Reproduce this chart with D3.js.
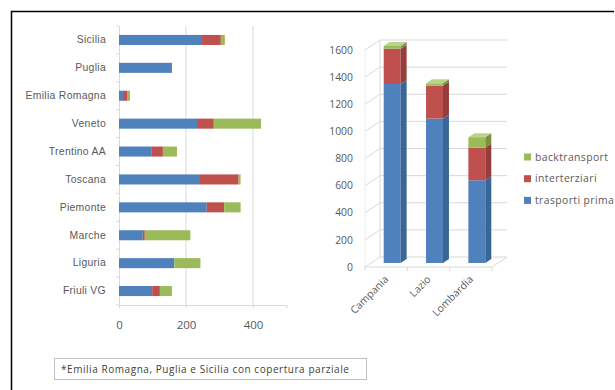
<!DOCTYPE html>
<html>
<head>
<meta charset="utf-8">
<script src="https://cdn.jsdelivr.net/npm/d3@7"></script>
<style>
  html, body { margin: 0; padding: 0; background: #fff; }
  svg { display: block; font-family: "Open Sans", "Liberation Sans", sans-serif; }
</style>
</head>
<body>
<svg id="chart" width="615" height="390"></svg>
<script>
// ---- Data ----
const seriesNames = ["trasporti prima", "interterziari", "backtransport"];
const seriesColors = ["#4F81BD", "#C0504D", "#9BBB59"];
const sideColors = ["#3A6597", "#963C3A", "#769140"];
const topColors = ["#7FA3D3", "#D98A88", "#B9D48A"];

const regions = ["Sicilia", "Puglia", "Emilia Romagna", "Veneto", "Trentino AA",
                 "Toscana", "Piemonte", "Marche", "Liguria", "Friuli VG"];
const regTrasporti = [248, 158, 12, 233, 98, 239, 262, 71, 165, 99];
const regInterterziari = [56, 0, 12, 50, 33, 118, 52, 6, 0, 23];
const regBacktransport = [12, 0, 9, 141, 42, 6, 49, 136, 78, 36];
const leftTicks = [0, 200, 400];

const bigRegions = ["Campania", "Lazio", "Lombardia"];
const bigTrasporti = [1320, 1065, 610];
const bigInterterziari = [260, 242, 240];
const bigBacktransport = [20, 18, 78];
const rightTicks = [0, 200, 400, 600, 800, 1000, 1200, 1400, 1600];

const footnote = "*Emilia Romagna, Puglia e Sicilia con copertura parziale";

const svg = d3.select("#chart");
const textColor = "#595959";
const gridColor = "#d9d9d9";

// ---- Outer frame (top and left lines) ----
svg.append("path").attr("d", "M11.5,390 L11.5,11.5 L614,11.5")
  .attr("fill", "none").attr("stroke", "#000").attr("stroke-width", 1.5);

// ---- Left chart: horizontal stacked bars ----
const leftRows = regions.map((r, i) => ({
  region: r,
  "trasporti prima": regTrasporti[i],
  "interterziari": regInterterziari[i],
  "backtransport": regBacktransport[i]
}));
const stackL = d3.stack().keys(seriesNames)(leftRows);

const xL = d3.scaleLinear().domain([0, 500]).range([119, 286.5]);
const yL = d3.scaleBand().domain(regions).range([26, 305]).paddingInner(0.64).paddingOuter(0.32);

const gL = svg.append("g");
// gridlines
gL.selectAll("line.grid").data(leftTicks.filter(t => t > 0)).join("line")
  .attr("x1", d => xL(d)).attr("x2", d => xL(d))
  .attr("y1", 26).attr("y2", 305)
  .attr("stroke", gridColor).attr("stroke-width", 1);

// axes
const axL = d3.axisBottom(xL).tickValues(leftTicks).tickSize(3).tickPadding(13);
const gAx = gL.append("g").attr("transform", "translate(0,305)").call(axL);
gAx.select(".domain").attr("stroke", gridColor);
gAx.selectAll(".tick line").attr("stroke", gridColor);
gAx.selectAll(".tick text").attr("fill", textColor).attr("font-size", "11.5px")
  .attr("font-family", "'Open Sans', sans-serif");

const ayL = d3.axisLeft(yL).tickSize(0).tickPadding(13);
const gAy = gL.append("g").attr("transform", "translate(119,0)").call(ayL);
gAy.select(".domain").attr("stroke", gridColor).attr("d", "M0.5,26V305");
gAy.selectAll(".tick text").attr("fill", textColor).attr("font-size", "10.4px")
  .attr("letter-spacing", "0.3px");
// boundary tick marks
const step = yL.step();
const bounds = d3.range(regions.length + 1).map(i => 26 + i * step);
gL.selectAll("line.bt").data(bounds).join("line")
  .attr("x1", 116).attr("x2", 119.5)
  .attr("y1", d => d).attr("y2", d => d)
  .attr("stroke", gridColor);

gL.selectAll("g.series").data(stackL).join("g")
  .attr("fill", (d, i) => seriesColors[i])
  .selectAll("rect").data(d => d).join("rect")
  .attr("x", d => xL(d[0]))
  .attr("width", d => Math.max(0, xL(d[1]) - xL(d[0])))
  .attr("y", d => yL(d.data.region))
  .attr("height", yL.bandwidth());

// ---- Right chart: 3D-style stacked columns ----
const dxD = 15, dyD = -10; // wall depth offset
const yR = d3.scaleLinear().domain([0, 1600]).range([267, 50]);
const xR = d3.scaleBand().domain(bigRegions).range([365, 492]).paddingInner(0.6).paddingOuter(0.3);
const gR = svg.append("g");

// back wall gridlines
gR.selectAll("line.bg").data(rightTicks).join("line")
  .attr("x1", 365 + dxD).attr("x2", 492 + dxD)
  .attr("y1", d => yR(d) + dyD).attr("y2", d => yR(d) + dyD)
  .attr("stroke", gridColor);
// left wall diagonals
gR.selectAll("line.lw").data(rightTicks).join("line")
  .attr("x1", 365).attr("x2", 365 + dxD)
  .attr("y1", d => yR(d)).attr("y2", d => yR(d) + dyD)
  .attr("stroke", gridColor);
// wall verticals
gR.append("line").attr("x1", 365 + dxD).attr("x2", 365 + dxD)
  .attr("y1", yR(1600) + dyD).attr("y2", yR(0) + dyD).attr("stroke", gridColor);
gR.append("line").attr("x1", 365).attr("x2", 365)
  .attr("y1", yR(1600)).attr("y2", yR(0)).attr("stroke", "#ececec");
// floor
gR.append("path")
  .attr("d", `M365,${yR(0)} L492,${yR(0)} L${492 + dxD},${yR(0) + dyD}`)
  .attr("fill", "none").attr("stroke", gridColor);
// x ticks
const xBounds = d3.range(bigRegions.length + 1).map(i => 365 + i * (127 / bigRegions.length));
gR.selectAll("line.xt").data(xBounds).join("line")
  .attr("x1", d => d).attr("x2", d => d)
  .attr("y1", yR(0)).attr("y2", yR(0) + 4).attr("stroke", gridColor);

// y labels
gR.selectAll("text.yl").data(rightTicks).join("text")
  .attr("x", 353).attr("y", d => yR(d)).attr("dy", "0.35em")
  .attr("text-anchor", "end").attr("fill", textColor).attr("font-size", "10.4px")
  .text(d => d);

// x labels rotated
gR.selectAll("text.xl").data(bigRegions).join("text")
  .attr("transform", d => `translate(${xR(d) + xR.bandwidth() / 2 + 3},${yR(0) + 13}) rotate(-45)`)
  .attr("text-anchor", "end").attr("fill", textColor).attr("font-size", "10.4px")
  .text(d => d);

// bars
const rightRows = bigRegions.map((r, i) => ({
  region: r,
  "trasporti prima": bigTrasporti[i],
  "interterziari": bigInterterziari[i],
  "backtransport": bigBacktransport[i]
}));
const stackR = d3.stack().keys(seriesNames)(rightRows);
const barShiftX = 6, barShiftY = -4; // bar placed mid-depth
const bdx = 6, bdy = -4; // bar own depth
bigRegions.forEach((r, ci) => {
  const gb = gR.append("g");
  const x0 = xR(r) + barShiftX, w = xR.bandwidth();
  stackR.forEach((s, si) => {
    const d = s[ci];
    if (d[1] - d[0] <= 0) return;
    const yt = yR(d[1]) + barShiftY, yb = yR(d[0]) + barShiftY;
    gb.append("rect").attr("x", x0).attr("y", yt).attr("width", w).attr("height", yb - yt)
      .attr("fill", seriesColors[si]);
    gb.append("path")
      .attr("d", `M${x0 + w},${yb} L${x0 + w + bdx},${yb + bdy} L${x0 + w + bdx},${yt + bdy} L${x0 + w},${yt} Z`)
      .attr("fill", sideColors[si]);
    if (si === stackR.length - 1) {
      gb.append("path")
        .attr("d", `M${x0},${yt} L${x0 + bdx},${yt + bdy} L${x0 + w + bdx},${yt + bdy} L${x0 + w},${yt} Z`)
        .attr("fill", topColors[si]);
    }
  });
});

// legend
const legendOrder = [2, 1, 0];
const gLeg = svg.append("g");
legendOrder.forEach((si, k) => {
  const y = 157 + k * 21.7;
  gLeg.append("rect").attr("x", 524).attr("y", y - 3.5).attr("width", 7).attr("height", 7)
    .attr("fill", seriesColors[si]);
  gLeg.append("text").attr("x", 535).attr("y", y).attr("dy", "0.35em")
    .attr("fill", textColor).attr("font-size", "10.4px").attr("letter-spacing", "0.4px")
    .text(seriesNames[si]);
});

// footnote box
svg.append("rect").attr("x", 54.5).attr("y", 358.5).attr("width", 312).attr("height", 21)
  .attr("fill", "#fff").attr("stroke", "#bfbfbf");
svg.append("text").attr("x", 61).attr("y", 369).attr("dy", "0.35em")
  .attr("fill", "#404040").attr("font-size", "10px").attr("letter-spacing", "0.55px")
  .text(footnote);
</script>
</body>
</html>
